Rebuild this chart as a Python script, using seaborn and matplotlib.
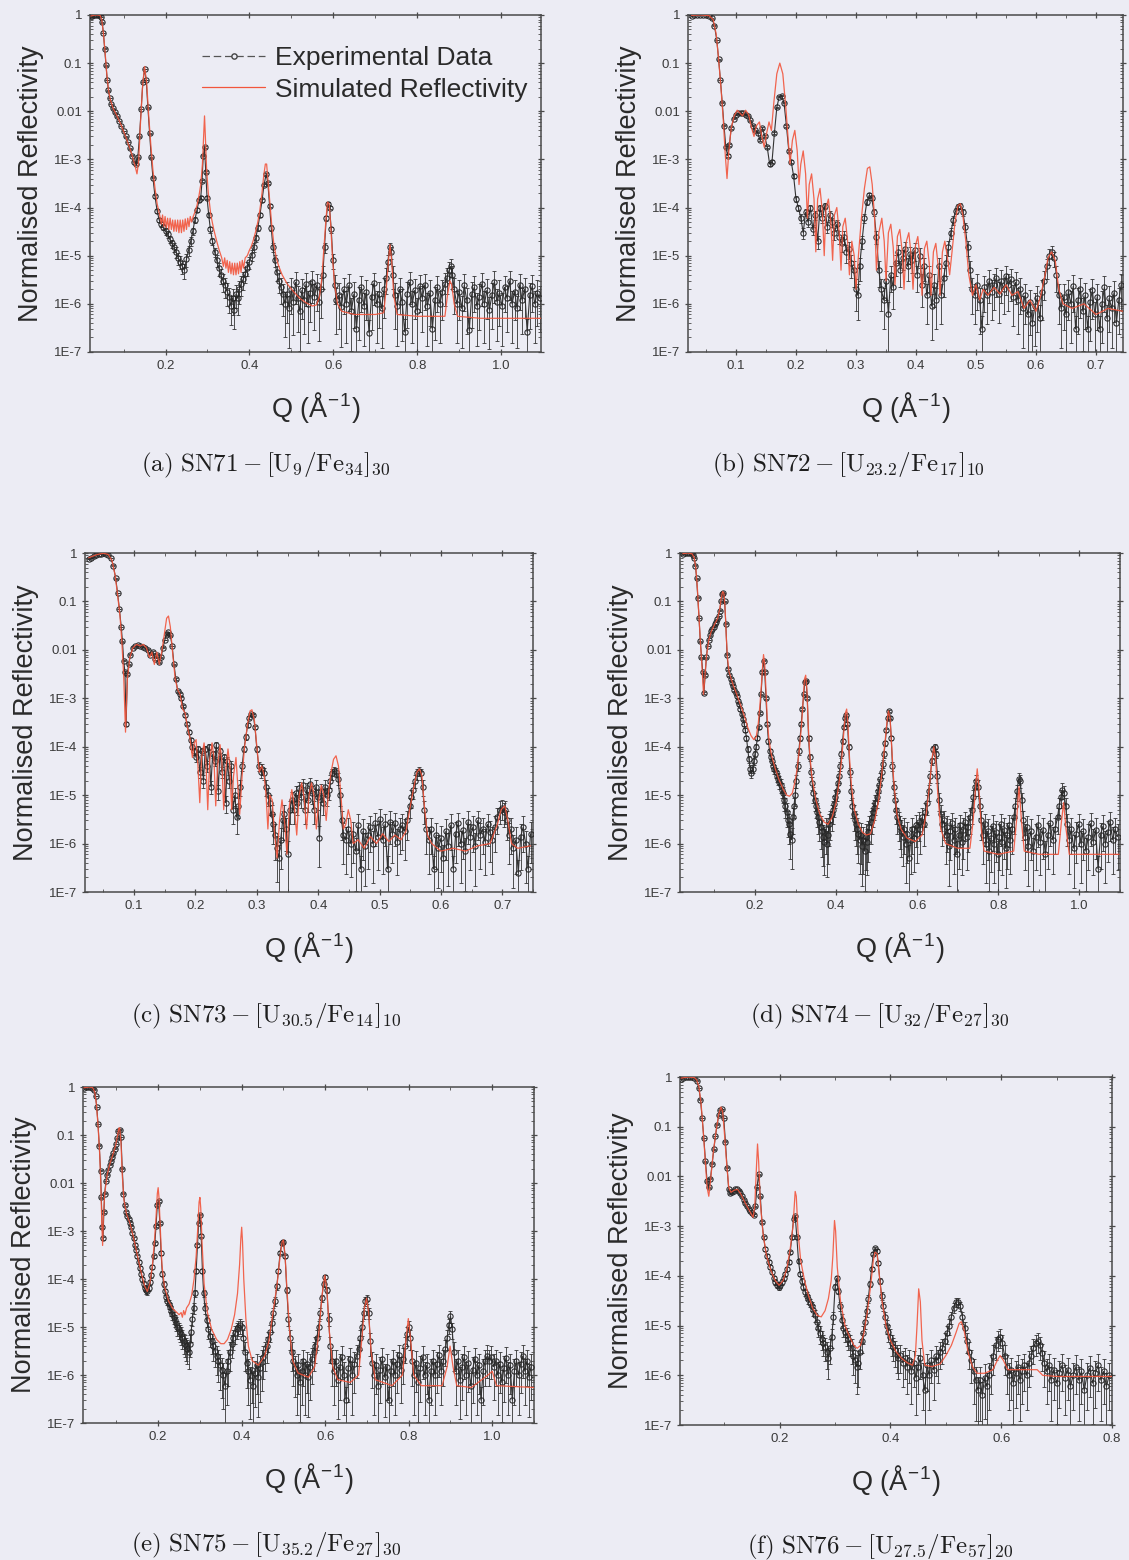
import numpy as np
import pandas as pd
import matplotlib
matplotlib.use('Agg')
import matplotlib.pyplot as plt
from matplotlib.lines import Line2D
from matplotlib.ticker import FixedLocator, MultipleLocator, LogLocator, NullFormatter
import seaborn as sns

# ─── Data: (Q, R, error in % of R) and (Q, R)
#
EXP_A = [
    (0.022, 0.93, 1), (0.026, 0.97, 1), (0.030, 0.99, 1), (0.034, 1.0, 1), (0.038, 1.0, 1), (0.042, 0.98, 1),
    (0.046, 0.90, 1), (0.049, 0.70, 1), (0.052, 0.42, 1), (0.055, 0.20, 1), (0.058, 0.090, 1), (0.061, 0.045, 1),
    (0.064, 0.027, 1), (0.067, 0.019, 1), (0.071, 0.014, 1), (0.075, 0.0115, 1), (0.080, 0.0095, 1), (0.085, 0.0078, 1),
    (0.090, 0.0063, 1), (0.095, 0.0050, 1), (0.100, 0.0039, 1), (0.105, 0.0030, 2), (0.110, 0.0023, 2), (0.115, 0.0017, 2),
    (0.120, 0.0012, 2), (0.125, 0.0009, 3), (0.130, 0.0008, 3), (0.134, 0.0011, 3), (0.138, 0.0030, 2), (0.142, 0.011, 1),
    (0.146, 0.040, 1), (0.150, 0.075, 1), (0.154, 0.045, 1), (0.158, 0.012, 1), (0.162, 0.0035, 2), (0.166, 0.0011, 3),
    (0.170, 4.2e-4, 4), (0.175, 1.7e-4, 5), (0.180, 8.5e-5, 8), (0.185, 5.5e-5, 10), (0.190, 4.5e-5, 12), (0.195, 4.0e-5, 14),
    (0.200, 3.2e-5, 15), (0.205, 2.8e-5, 16), (0.210, 2.2e-5, 18), (0.215, 1.8e-5, 20), (0.220, 1.5e-5, 22), (0.225, 1.2e-5, 25),
    (0.230, 9.0e-6, 28), (0.235, 7.5e-6, 30), (0.240, 6.0e-6, 32), (0.245, 5.0e-6, 35), (0.250, 8.5e-6, 30), (0.255, 1.3e-5, 25),
    (0.260, 2.0e-5, 22), (0.265, 3.2e-5, 18), (0.270, 5.5e-5, 14), (0.275, 9.0e-5, 10), (0.280, 1.4e-4, 8), (0.284, 1.6e-4, 8),
    (0.287, 3.5e-4, 5), (0.290, 1.2e-3, 3), (0.293, 1.8e-3, 3), (0.296, 5.5e-4, 4), (0.299, 1.6e-4, 8), (0.303, 7.0e-5, 10),
    (0.307, 3.5e-5, 14), (0.312, 2.0e-5, 18), (0.317, 1.2e-5, 22), (0.322, 8.0e-6, 26), (0.327, 5.5e-6, 30), (0.332, 4.0e-6, 35),
    (0.337, 3.0e-6, 40), (0.342, 2.4e-6, 45), (0.347, 1.8e-6, 50), (0.352, 1.4e-6, 55), (0.356, 9.0e-7, 60), (0.360, 1.3e-6, 55),
    (0.364, 7.5e-7, 60), (0.368, 1.6e-6, 50), (0.372, 1.3e-6, 55), (0.376, 2.0e-6, 50), (0.380, 2.6e-6, 45), (0.385, 3.2e-6, 40),
    (0.390, 4.2e-6, 36), (0.395, 5.5e-6, 32), (0.400, 7.5e-6, 28), (0.405, 1.05e-5, 25), (0.410, 1.5e-5, 22), (0.415, 2.3e-5, 18),
    (0.420, 3.8e-5, 14), (0.425, 7.0e-5, 10), (0.430, 1.4e-4, 8), (0.435, 3.0e-4, 5), (0.440, 5.0e-4, 4), (0.444, 3.2e-4, 5),
    (0.448, 1.1e-4, 8), (0.452, 3.8e-5, 14), (0.456, 1.5e-5, 20), (0.460, 8.0e-6, 28), (0.465, 4.5e-6, 35), (0.470, 3.0e-6, 45),
    (0.475, 2.2e-6, 55), (0.480, 1.6e-6, 65), (0.485, 1.0e-6, 80), (0.490, 1.6e-6, 75), (0.495, 8.0e-7, 85), (0.500, 2.0e-6, 70),
    (0.505, 1.1e-6, 80), (0.510, 2.8e-6, 65), (0.515, 1.3e-6, 80), (0.520, 7.0e-7, 85), (0.525, 1.9e-6, 75), (0.530, 1.2e-6, 80),
    (0.535, 2.6e-6, 65), (0.540, 1.0e-6, 85), (0.545, 1.7e-6, 75), (0.550, 2.9e-6, 65), (0.555, 1.4e-6, 80), (0.560, 2.4e-6, 70),
    (0.565, 1.1e-6, 85), (0.570, 2.0e-6, 75), (0.575, 4.0e-6, 50), (0.579, 1.5e-5, 25), (0.583, 6.0e-5, 12), (0.587, 1.2e-4, 8),
    (0.591, 1.0e-4, 8), (0.595, 3.5e-5, 15), (0.599, 8.0e-6, 35), (0.603, 2.5e-6, 60), (0.607, 1.2e-6, 80),
    (0.613, 1.5e-6, 80), (0.619, 8.5e-7, 85), (0.625, 2.0e-6, 70), (0.631, 1.0e-6, 85), (0.637, 2.4e-6, 70), (0.643, 7.0e-7, 85),
    (0.649, 1.6e-6, 80), (0.655, 3.0e-7, 85), (0.661, 1.2e-6, 85), (0.667, 2.2e-6, 70), (0.673, 9.0e-7, 85), (0.679, 1.8e-6, 75),
    (0.685, 2.5e-7, 85), (0.691, 1.4e-6, 80), (0.697, 2.7e-6, 65), (0.703, 1.0e-6, 85), (0.709, 1.6e-6, 80), (0.715, 8.0e-7, 85),
    (0.721, 2.0e-6, 75), (0.726, 3.5e-6, 55), (0.730, 7.5e-6, 35), (0.734, 1.5e-5, 25), (0.738, 1.2e-5, 28), (0.742, 4.0e-6, 50),
    (0.746, 1.5e-6, 80), (0.752, 9.0e-7, 85), (0.758, 2.0e-6, 70), (0.764, 1.1e-6, 85), (0.770, 2.6e-7, 85), (0.776, 1.6e-6, 80),
    (0.782, 2.8e-6, 65), (0.788, 1.0e-6, 85), (0.794, 1.9e-6, 75), (0.800, 7.0e-7, 85), (0.806, 2.3e-6, 70), (0.812, 1.3e-6, 80),
    (0.818, 2.5e-6, 70), (0.824, 9.0e-7, 85), (0.830, 1.7e-6, 80), (0.836, 3.0e-7, 85), (0.842, 1.2e-6, 85), (0.848, 2.2e-6, 70),
    (0.854, 1.0e-6, 85), (0.860, 1.8e-6, 75), (0.866, 2.6e-6, 65), (0.871, 3.5e-6, 55), (0.876, 5.0e-6, 45), (0.880, 6.0e-6, 40),
    (0.884, 4.0e-6, 50), (0.888, 2.0e-6, 70), (0.894, 1.0e-6, 85), (0.900, 1.8e-6, 75), (0.906, 8.0e-7, 85), (0.912, 2.4e-6, 70),
    (0.918, 1.2e-6, 80), (0.924, 2.8e-7, 85), (0.930, 1.6e-6, 80), (0.936, 2.2e-6, 70), (0.942, 9.0e-7, 85), (0.948, 1.4e-6, 80),
    (0.954, 2.6e-6, 65), (0.960, 1.0e-6, 85), (0.966, 1.9e-6, 75), (0.972, 7.5e-7, 85), (0.978, 1.5e-6, 80), (0.984, 2.9e-6, 65),
    (0.990, 1.1e-6, 85), (0.996, 1.7e-6, 80), (1.002, 9.0e-7, 85), (1.008, 2.2e-6, 70), (1.014, 1.3e-6, 80), (1.020, 3.0e-6, 60),
    (1.026, 1.0e-6, 85), (1.032, 1.8e-6, 75), (1.038, 8.0e-7, 85), (1.044, 2.5e-6, 70), (1.050, 1.2e-6, 80), (1.056, 2.0e-6, 75),
    (1.062, 2.6e-7, 85), (1.068, 1.5e-6, 80), (1.074, 2.3e-6, 70), (1.080, 1.0e-6, 85), (1.086, 1.7e-6, 80), (1.092, 1.3e-6, 80),
]
SIM_A = [
    (0.022, 0.95), (0.030, 0.99), (0.038, 1.0), (0.044, 0.98), (0.048, 0.80), (0.052, 0.42), (0.056, 0.17), (0.060, 0.060),
    (0.064, 0.028), (0.068, 0.018), (0.075, 0.0115), (0.085, 0.0078), (0.095, 0.0050), (0.105, 0.0030), (0.115, 0.0017),
    (0.122, 0.0011), (0.128, 7e-4), (0.132, 5e-4), (0.136, 9e-4), (0.140, 0.005), (0.145, 0.030), (0.150, 0.085),
    (0.155, 0.040), (0.160, 0.008), (0.165, 0.002), (0.170, 6e-4), (0.175, 2.5e-4), (0.180, 1.2e-4), (0.186, 7e-5),
    (0.190, 4.5e-5), (0.193, 7e-5), (0.196, 4e-5), (0.199, 6.5e-5), (0.202, 3.8e-5), (0.205, 6e-5), (0.208, 3.5e-5),
    (0.211, 6e-5), (0.214, 3.5e-5), (0.217, 5.5e-5), (0.220, 3.2e-5), (0.223, 5.5e-5), (0.226, 3.2e-5), (0.229, 5.5e-5),
    (0.232, 3e-5), (0.235, 5.5e-5), (0.238, 3e-5), (0.241, 5.5e-5), (0.244, 3.2e-5), (0.247, 5.8e-5), (0.250, 3.5e-5),
    (0.253, 6e-5), (0.256, 4e-5), (0.259, 6.5e-5), (0.262, 5e-5), (0.266, 6.5e-5), (0.270, 8e-5), (0.275, 1.1e-4),
    (0.280, 1.8e-4), (0.284, 3e-4), (0.288, 8e-4), (0.291, 3e-3), (0.293, 8e-3), (0.295, 3e-3), (0.298, 6e-4),
    (0.302, 2e-4), (0.308, 7e-5), (0.315, 3.5e-5), (0.322, 2e-5), (0.328, 1.3e-5), (0.334, 9e-6), (0.338, 6e-6),
    (0.341, 9e-6), (0.344, 5.5e-6), (0.347, 8e-6), (0.350, 4.5e-6), (0.353, 7.5e-6), (0.356, 4.2e-6), (0.359, 7e-6),
    (0.362, 4e-6), (0.365, 7e-6), (0.368, 4e-6), (0.371, 7e-6), (0.374, 4.2e-6), (0.377, 7.5e-6), (0.380, 4.5e-6),
    (0.383, 8e-6), (0.386, 5.5e-6), (0.390, 9e-6), (0.395, 1e-5), (0.400, 1.3e-5), (0.405, 1.6e-5), (0.410, 2.2e-5),
    (0.415, 3.2e-5), (0.420, 5e-5), (0.425, 9e-5), (0.430, 2e-4), (0.434, 4.5e-4), (0.438, 8e-4), (0.441, 8e-4),
    (0.444, 4e-4), (0.448, 1.5e-4), (0.453, 4.5e-5), (0.458, 1.8e-5), (0.464, 9e-6), (0.470, 6e-6), (0.478, 4e-6),
    (0.490, 2.6e-6), (0.505, 1.8e-6), (0.520, 1.3e-6), (0.535, 1.05e-6), (0.550, 9e-7), (0.560, 9.5e-7), (0.567, 1.4e-6),
    (0.572, 3e-6), (0.577, 1.2e-5), (0.582, 5e-5), (0.586, 1.3e-4), (0.590, 1.2e-4), (0.594, 4e-5), (0.598, 9e-6),
    (0.603, 2.5e-6), (0.610, 1e-6), (0.620, 7e-7), (0.650, 6e-7), (0.700, 6e-7), (0.720, 6.5e-7), (0.726, 2e-6),
    (0.731, 7e-6), (0.735, 1.7e-5), (0.739, 8e-6), (0.744, 1.5e-6), (0.752, 6e-7), (0.800, 5.5e-7), (0.866, 5.5e-7),
    (0.872, 1.5e-6), (0.878, 3e-6), (0.882, 2.5e-6), (0.888, 1e-6), (0.896, 5.5e-7), (0.950, 5e-7), (1.095, 5e-7),
]

EXP_B = [
    (0.026, 0.97, 1), (0.030, 0.99, 1), (0.035, 1.0, 1), (0.040, 1.0, 1), (0.045, 1.0, 1), (0.050, 0.99, 1), (0.055, 0.95, 1),
    (0.060, 0.85, 1), (0.064, 0.60, 1), (0.068, 0.30, 1), (0.071, 0.12, 1), (0.074, 0.045, 1), (0.077, 0.015, 2), (0.080, 5e-3, 3),
    (0.083, 1.8e-3, 5), (0.086, 1.2e-3, 6), (0.089, 2.0e-3, 5), (0.092, 4.5e-3, 3), (0.096, 7.0e-3, 3), (0.100, 8.5e-3, 2),
    (0.104, 9.0e-3, 2), (0.108, 9.2e-3, 2), (0.112, 9.0e-3, 2), (0.116, 8.5e-3, 2), (0.120, 8.0e-3, 2), (0.124, 6.5e-3, 3),
    (0.128, 5.0e-3, 3), (0.132, 4.0e-3, 4), (0.136, 3.6e-3, 4), (0.140, 2.5e-3, 5), (0.144, 4.5e-3, 4), (0.148, 3.0e-3, 5),
    (0.152, 1.8e-3, 6), (0.156, 8e-4, 8), (0.160, 9e-4, 8), (0.164, 3.5e-3, 5), (0.168, 1.2e-2, 3), (0.172, 2.0e-2, 2),
    (0.176, 2.1e-2, 2), (0.180, 1.5e-2, 3), (0.184, 5e-3, 4), (0.188, 1.5e-3, 6), (0.192, 9e-4, 8), (0.196, 4.5e-4, 10),
    (0.200, 1.5e-4, 15), (0.204, 1.0e-4, 15), (0.208, 6e-5, 20), (0.212, 3e-5, 25), (0.216, 8e-5, 18), (0.220, 5e-5, 22),
    (0.224, 1.0e-4, 15), (0.228, 3.5e-5, 25), (0.232, 7e-5, 20), (0.236, 2e-5, 30), (0.240, 1.0e-4, 15), (0.244, 6e-5, 20),
    (0.248, 1.1e-4, 15), (0.252, 4e-5, 25), (0.256, 7e-5, 20), (0.260, 5e-5, 22), (0.264, 3e-5, 28), (0.268, 4.5e-5, 25),
    (0.272, 2.5e-5, 30), (0.276, 1.8e-5, 35), (0.280, 2.5e-5, 30), (0.284, 1.2e-5, 40), (0.288, 1.4e-5, 40), (0.292, 7e-6, 50),
    (0.296, 5e-6, 55), (0.300, 2e-6, 65), (0.303, 1.5e-6, 70), (0.306, 6e-6, 50), (0.310, 2e-5, 30), (0.314, 6e-5, 20),
    (0.318, 1.3e-4, 15), (0.322, 1.8e-4, 12), (0.326, 1.6e-4, 12), (0.330, 8e-5, 18), (0.334, 2.5e-5, 30), (0.338, 5e-6, 55),
    (0.342, 2e-6, 65), (0.346, 1.2e-6, 75), (0.350, 3e-6, 60), (0.354, 6e-7, 85), (0.358, 4e-6, 55), (0.362, 2.2e-6, 65),
    (0.366, 7e-6, 45), (0.370, 1.2e-5, 40), (0.374, 5e-6, 55), (0.378, 9e-6, 45), (0.382, 1.4e-5, 40), (0.386, 6e-6, 50),
    (0.390, 1.1e-5, 40), (0.394, 8e-6, 45), (0.398, 1.3e-5, 40), (0.402, 4e-6, 55), (0.406, 1.0e-5, 45), (0.410, 2.5e-6, 65),
    (0.414, 6e-6, 50), (0.418, 1.5e-6, 75), (0.422, 4e-6, 55), (0.426, 9e-7, 80), (0.430, 2.5e-6, 65), (0.434, 1.2e-6, 75),
    (0.438, 6e-6, 50), (0.442, 1.5e-6, 75), (0.446, 3.5e-6, 60), (0.450, 7e-6, 45), (0.454, 1.5e-5, 35), (0.458, 3e-5, 25),
    (0.462, 5.5e-5, 20), (0.466, 8.5e-5, 15), (0.470, 1.05e-4, 12), (0.474, 1.1e-4, 12), (0.478, 8e-5, 15), (0.482, 4e-5, 22),
    (0.486, 1.5e-5, 35), (0.490, 5e-6, 55), (0.494, 2e-6, 70), (0.498, 1.5e-6, 75), (0.502, 2.5e-6, 70), (0.506, 1.2e-6, 80),
    (0.510, 3e-7, 85), (0.514, 2.2e-6, 70), (0.518, 1.5e-6, 75), (0.522, 3e-6, 65), (0.526, 1.8e-6, 75), (0.530, 2.5e-6, 70),
    (0.534, 3.5e-6, 60), (0.538, 1.6e-6, 75), (0.542, 3e-6, 65), (0.546, 2e-6, 70), (0.550, 3.8e-6, 60), (0.554, 2.4e-6, 70),
    (0.558, 3.2e-6, 65), (0.562, 1.4e-6, 75), (0.566, 2.8e-6, 65), (0.570, 1.2e-6, 80), (0.574, 2e-6, 70), (0.578, 8e-7, 85),
    (0.582, 1.5e-6, 75), (0.586, 6e-7, 85), (0.590, 1.1e-6, 80), (0.594, 4e-7, 85), (0.598, 9e-7, 85), (0.602, 1.3e-6, 80),
    (0.606, 5e-7, 85), (0.610, 1.8e-6, 75), (0.614, 3e-6, 60), (0.618, 6e-6, 45), (0.622, 1.0e-5, 35), (0.626, 1.2e-5, 30),
    (0.630, 9e-6, 35), (0.634, 4e-6, 55), (0.638, 1.5e-6, 75), (0.642, 8e-7, 85), (0.646, 1.4e-6, 80), (0.650, 6e-7, 85),
    (0.654, 1.8e-6, 75), (0.658, 1.0e-6, 85), (0.662, 2.3e-6, 70), (0.666, 3e-7, 85), (0.670, 1.2e-6, 80), (0.674, 2.0e-6, 75),
    (0.678, 7e-7, 85), (0.682, 1.5e-6, 80), (0.686, 3e-7, 85), (0.690, 1.1e-6, 85), (0.694, 1.9e-6, 75), (0.698, 6e-7, 85),
    (0.702, 1.4e-6, 80), (0.706, 3e-7, 85), (0.710, 1.0e-6, 85), (0.714, 2.2e-6, 70), (0.718, 5e-7, 85), (0.722, 1.3e-6, 80),
    (0.726, 8e-7, 85), (0.730, 1.7e-6, 75), (0.734, 4e-7, 85), (0.738, 1.2e-6, 80), (0.742, 2.5e-6, 70),
]
SIM_B = [
    (0.026, 0.98), (0.040, 1.0), (0.055, 0.97), (0.062, 0.80), (0.067, 0.40), (0.071, 0.12), (0.075, 0.03), (0.079, 6e-3),
    (0.082, 1.3e-3), (0.085, 4e-4), (0.088, 1.5e-3), (0.092, 4.5e-3), (0.097, 8e-3), (0.102, 1.05e-2), (0.107, 9e-3),
    (0.111, 8e-3), (0.116, 1.05e-2), (0.121, 8.5e-3), (0.126, 4.5e-3), (0.130, 3e-3), (0.134, 5e-3), (0.139, 6e-3),
    (0.143, 3e-3), (0.147, 1.8e-3), (0.151, 3.5e-3), (0.155, 6e-3), (0.159, 4e-3), (0.163, 1.5e-2), (0.168, 6e-2),
    (0.173, 0.1), (0.178, 6e-2), (0.183, 1.2e-2), (0.187, 2.5e-3), (0.190, 8e-4), (0.194, 2.5e-3), (0.198, 4e-3),
    (0.202, 1.5e-3), (0.205, 3e-4), (0.208, 8e-4), (0.212, 1.5e-3), (0.216, 5e-4), (0.219, 6e-5), (0.222, 3e-4),
    (0.226, 5e-4), (0.230, 1.5e-4), (0.233, 1.2e-5), (0.236, 1.5e-4), (0.240, 2.5e-4), (0.244, 8e-5), (0.247, 1e-5),
    (0.250, 1e-4), (0.254, 1.5e-4), (0.258, 5e-5), (0.261, 8e-6), (0.264, 7e-5), (0.268, 1e-4), (0.272, 3e-5),
    (0.275, 5e-6), (0.278, 4e-5), (0.282, 6e-5), (0.286, 2e-5), (0.289, 4e-6), (0.293, 2e-5), (0.297, 1e-5),
    (0.300, 2e-6), (0.304, 1e-5), (0.309, 6e-5), (0.314, 2.5e-4), (0.319, 6.5e-4), (0.323, 7e-4), (0.327, 3e-4),
    (0.331, 6e-5), (0.334, 5e-6), (0.338, 3e-5), (0.343, 6e-5), (0.347, 2e-5), (0.350, 3e-6), (0.354, 3e-5),
    (0.358, 4.5e-5), (0.362, 1.5e-5), (0.365, 2.5e-6), (0.369, 2.5e-5), (0.373, 3.5e-5), (0.377, 1.2e-5), (0.380, 2e-6),
    (0.384, 2e-5), (0.388, 3e-5), (0.392, 1e-5), (0.395, 2e-6), (0.399, 1.6e-5), (0.403, 2.5e-5), (0.407, 8e-6),
    (0.410, 1.5e-6), (0.414, 1.4e-5), (0.418, 2e-5), (0.422, 7e-6), (0.425, 1.5e-6), (0.429, 1.2e-5), (0.433, 1.8e-5),
    (0.437, 6e-6), (0.440, 1.5e-6), (0.444, 1.2e-5), (0.448, 2e-5), (0.452, 1e-5), (0.456, 4e-6), (0.460, 1.2e-5),
    (0.465, 5e-5), (0.470, 1.1e-4), (0.474, 1.2e-4), (0.478, 7e-5), (0.483, 2e-5), (0.488, 4e-6), (0.494, 1.5e-6),
    (0.500, 2.5e-6), (0.506, 1.2e-6), (0.512, 2e-6), (0.520, 1.5e-6), (0.530, 2.2e-6), (0.540, 1.6e-6), (0.550, 2.5e-6),
    (0.560, 1.5e-6), (0.570, 1.8e-6), (0.580, 8e-7), (0.590, 1.2e-6), (0.600, 7e-7), (0.608, 1.5e-6), (0.615, 4e-6),
    (0.620, 9e-6), (0.626, 1.2e-5), (0.632, 8e-6), (0.638, 2e-6), (0.645, 1e-6), (0.660, 8e-7), (0.680, 1e-6),
    (0.700, 6e-7), (0.720, 8e-7), (0.745, 7e-7),
]

EXP_C = [
    (0.026, 0.75, 1), (0.030, 0.80, 1), (0.034, 0.85, 1), (0.038, 0.90, 1), (0.042, 0.95, 1), (0.046, 0.97, 1),
    (0.050, 0.99, 1), (0.054, 0.97, 1), (0.058, 0.92, 1), (0.062, 0.80, 1), (0.066, 0.55, 1), (0.070, 0.30, 1),
    (0.073, 0.15, 1), (0.076, 0.07, 1), (0.079, 0.03, 1), (0.081, 0.015, 2), (0.083, 6e-3, 3), (0.085, 3.5e-3, 4),
    (0.087, 3e-4, 10), (0.089, 3.2e-3, 4), (0.091, 5e-3, 3), (0.094, 8e-3, 3), (0.098, 1.1e-2, 2), (0.102, 1.2e-2, 2),
    (0.106, 1.25e-2, 2), (0.110, 1.2e-2, 2), (0.114, 1.15e-2, 2), (0.118, 1.1e-2, 2), (0.122, 1.0e-2, 2), (0.126, 8e-3, 3),
    (0.130, 9e-3, 3), (0.134, 6.5e-3, 3), (0.138, 8e-3, 3), (0.141, 5.5e-3, 3), (0.144, 7e-3, 3), (0.147, 1.1e-2, 2),
    (0.150, 1.6e-2, 2), (0.153, 2.1e-2, 2), (0.156, 2.3e-2, 2), (0.159, 2.0e-2, 2), (0.162, 1.2e-2, 2), (0.165, 5e-3, 3),
    (0.168, 2.5e-3, 4), (0.171, 1.4e-3, 5), (0.174, 1.2e-3, 5), (0.177, 1.0e-3, 6), (0.180, 7e-4, 6), (0.183, 4.5e-4, 7),
    (0.186, 3e-4, 8), (0.189, 2e-4, 9), (0.192, 1.4e-4, 10), (0.195, 1.0e-4, 12), (0.198, 8e-5, 15), (0.201, 6e-5, 18),
    (0.204, 9e-5, 15), (0.207, 3e-5, 25), (0.210, 8e-5, 15), (0.213, 2e-5, 30), (0.216, 9e-5, 15), (0.219, 4e-5, 25),
    (0.222, 1e-4, 15), (0.225, 1.5e-5, 30), (0.228, 7e-5, 18), (0.231, 5e-5, 20), (0.234, 1.1e-4, 15), (0.237, 1.2e-5, 35),
    (0.240, 8e-5, 18), (0.243, 3e-5, 25), (0.246, 6e-5, 20), (0.249, 7e-6, 40), (0.252, 5e-5, 20), (0.255, 2e-5, 30),
    (0.258, 4e-5, 25), (0.261, 5e-6, 50), (0.264, 1e-5, 40), (0.267, 3.5e-6, 55), (0.270, 6e-6, 45), (0.273, 1.5e-5, 35),
    (0.276, 4e-5, 22), (0.279, 9e-5, 15), (0.282, 1.6e-4, 12), (0.285, 2.8e-4, 8), (0.288, 4e-4, 7), (0.291, 4.8e-4, 6),
    (0.294, 4.5e-4, 6), (0.297, 2.5e-4, 8), (0.300, 9e-5, 15), (0.303, 4e-5, 22), (0.306, 3e-5, 25), (0.309, 3.5e-5, 25),
    (0.312, 2.8e-5, 28), (0.315, 1.5e-5, 35), (0.318, 1.0e-5, 40), (0.321, 7e-6, 45), (0.324, 4e-6, 55), (0.327, 2.5e-6, 60),
    (0.330, 1.5e-6, 70), (0.333, 8e-7, 80), (0.336, 5e-7, 85), (0.339, 1.2e-6, 75), (0.342, 3e-6, 60), (0.345, 4e-6, 55),
    (0.348, 2e-6, 65), (0.351, 6e-7, 85), (0.354, 5e-6, 50), (0.357, 8e-6, 45), (0.360, 5e-6, 50), (0.363, 1.1e-5, 40),
    (0.366, 7e-6, 45), (0.369, 1.4e-5, 35), (0.372, 9e-6, 40), (0.375, 1.6e-5, 35), (0.378, 5e-6, 50), (0.381, 1.3e-5, 38),
    (0.384, 8e-6, 45), (0.387, 1.7e-5, 35), (0.390, 1.1e-5, 40), (0.393, 5e-6, 50), (0.396, 1.5e-5, 35), (0.399, 9e-6, 45),
    (0.402, 1.3e-6, 75), (0.405, 1.2e-5, 40), (0.408, 7e-6, 45), (0.411, 1.5e-5, 35), (0.414, 1.0e-5, 40), (0.417, 1.3e-5, 38),
    (0.420, 2e-5, 30), (0.423, 2.8e-5, 25), (0.426, 3.2e-5, 22), (0.429, 3e-5, 22), (0.432, 2.2e-5, 28), (0.435, 1e-5, 40),
    (0.438, 3e-6, 60), (0.441, 1.5e-6, 75), (0.445, 1.2e-6, 80), (0.449, 2e-6, 70), (0.453, 1e-6, 80), (0.457, 1.6e-6, 75),
    (0.461, 7e-7, 85), (0.465, 2.4e-6, 70), (0.469, 3e-7, 85), (0.473, 1.8e-6, 75), (0.477, 9e-7, 85), (0.481, 1.5e-6, 80),
    (0.485, 2.2e-6, 70), (0.489, 1e-6, 85), (0.493, 2.6e-6, 65), (0.497, 1.4e-6, 80), (0.501, 3.2e-6, 60), (0.505, 1.2e-6, 80),
    (0.509, 2.5e-6, 65), (0.513, 3e-7, 85), (0.517, 2.8e-6, 65), (0.521, 1.6e-6, 75), (0.525, 2.6e-6, 65), (0.529, 1.1e-6, 80),
    (0.533, 2.0e-6, 70), (0.537, 2.4e-6, 70), (0.541, 1.8e-6, 75), (0.545, 3e-6, 60), (0.549, 6e-6, 45), (0.552, 9e-6, 40),
    (0.555, 1.3e-5, 35), (0.558, 2e-5, 30), (0.561, 2.8e-5, 25), (0.564, 3.2e-5, 22), (0.567, 2.8e-5, 25), (0.570, 1.5e-5, 35),
    (0.573, 5e-6, 50), (0.576, 2e-6, 70), (0.580, 1.2e-6, 80), (0.584, 2e-6, 70), (0.588, 3e-7, 85), (0.592, 1.5e-6, 80),
    (0.596, 8e-7, 85), (0.600, 1.3e-6, 80), (0.604, 5e-7, 85), (0.608, 1.8e-6, 75), (0.612, 9e-7, 85), (0.616, 2.4e-6, 70),
    (0.620, 3e-7, 85), (0.624, 1.6e-6, 75), (0.628, 2.6e-6, 65), (0.632, 1e-6, 85), (0.636, 1.9e-6, 75), (0.640, 7e-7, 85),
    (0.644, 2.8e-6, 65), (0.648, 1.4e-6, 80), (0.652, 2.2e-6, 70), (0.656, 9e-7, 85), (0.660, 3e-6, 60), (0.664, 1.5e-6, 80),
    (0.668, 2e-6, 70), (0.672, 1.1e-6, 80), (0.676, 2.5e-6, 65), (0.680, 1.7e-6, 75), (0.684, 1.2e-6, 80), (0.688, 2.2e-6, 70),
    (0.692, 3.5e-6, 55), (0.696, 5e-6, 50), (0.699, 5.5e-6, 45), (0.702, 4.5e-6, 50), (0.705, 5e-6, 50), (0.708, 3e-6, 60),
    (0.711, 1.5e-6, 75), (0.714, 2e-6, 70), (0.718, 8e-7, 85), (0.722, 1.2e-6, 80), (0.726, 2.5e-7, 85), (0.730, 1.4e-6, 80),
    (0.734, 2.2e-6, 70), (0.738, 1e-6, 85), (0.742, 3e-7, 85), (0.746, 1.6e-6, 75),
]
SIM_C = [
    (0.026, 0.80), (0.040, 0.93), (0.050, 0.99), (0.058, 0.93), (0.064, 0.70), (0.069, 0.35), (0.073, 0.14), (0.077, 0.05),
    (0.080, 0.015), (0.083, 3e-3), (0.086, 2e-4), (0.089, 2.5e-3), (0.093, 7e-3), (0.098, 1.1e-2), (0.104, 1.3e-2),
    (0.110, 1.2e-2), (0.115, 1.3e-2), (0.120, 1.1e-2), (0.125, 7e-3), (0.129, 9e-3), (0.133, 5e-3), (0.137, 9e-3),
    (0.141, 5e-3), (0.145, 9e-3), (0.149, 2e-2), (0.153, 4.5e-2), (0.156, 5e-2), (0.159, 3e-2), (0.163, 8e-3),
    (0.167, 2.5e-3), (0.171, 1.5e-3), (0.175, 1.2e-3), (0.179, 6e-4), (0.183, 5e-4), (0.187, 2.5e-4), (0.191, 1.5e-4),
    (0.195, 6e-5), (0.198, 1.2e-4), (0.201, 1.4e-4), (0.204, 4e-5), (0.207, 7e-6), (0.210, 6e-5), (0.214, 1.2e-4),
    (0.217, 5e-5), (0.220, 5e-6), (0.223, 5e-5), (0.227, 1.2e-4), (0.230, 6e-5), (0.233, 6e-6), (0.236, 4e-5),
    (0.240, 1.1e-4), (0.243, 5e-5), (0.246, 5e-6), (0.249, 3e-5), (0.253, 9e-5), (0.256, 4e-5), (0.259, 5e-6),
    (0.262, 2.5e-5), (0.266, 6e-5), (0.269, 1.5e-5), (0.272, 4e-6), (0.276, 2.5e-5), (0.280, 1e-4), (0.285, 3e-4),
    (0.289, 5.5e-4), (0.292, 5.8e-4), (0.296, 3.5e-4), (0.300, 1e-4), (0.304, 3e-5), (0.308, 4e-5), (0.312, 2.5e-5),
    (0.315, 1e-5), (0.318, 2e-6), (0.321, 1e-5), (0.325, 8e-6), (0.329, 1.5e-6), (0.333, 5e-7), (0.337, 3e-6),
    (0.341, 8e-6), (0.345, 3e-6), (0.349, 6e-7), (0.353, 6e-6), (0.357, 1.3e-5), (0.361, 6e-6), (0.365, 1.5e-6),
    (0.369, 1e-5), (0.373, 1.8e-5), (0.377, 9e-6), (0.381, 2e-6), (0.385, 1e-5), (0.389, 1.8e-5), (0.393, 1e-5),
    (0.397, 2e-6), (0.401, 8e-6), (0.405, 1.6e-5), (0.409, 1e-5), (0.413, 3e-6), (0.417, 1.2e-5), (0.421, 3e-5),
    (0.425, 5.5e-5), (0.429, 6.5e-5), (0.433, 4e-5), (0.437, 1e-5), (0.441, 2e-6), (0.445, 2.5e-6), (0.449, 5e-6),
    (0.453, 3e-6), (0.457, 1e-6), (0.465, 1.2e-6), (0.475, 8e-7), (0.485, 1.4e-6), (0.495, 1.0e-6), (0.505, 1.6e-6),
    (0.515, 1.1e-6), (0.525, 1.5e-6), (0.535, 1.2e-6), (0.543, 1.8e-6), (0.549, 5e-6), (0.555, 1.3e-5), (0.561, 3e-5),
    (0.565, 3.5e-5), (0.569, 2.5e-5), (0.573, 6e-6), (0.578, 1.5e-6), (0.585, 1e-6), (0.600, 7e-7), (0.620, 8e-7),
    (0.640, 7e-7), (0.660, 9e-7), (0.680, 1e-6), (0.692, 2.5e-6), (0.698, 5e-6), (0.704, 6e-6), (0.709, 3e-6),
    (0.715, 1e-6), (0.725, 8e-7), (0.746, 9e-7),
]

EXP_D = [
    (0.022, 0.95, 1), (0.027, 0.99, 1), (0.032, 1.0, 1), (0.037, 1.0, 1), (0.042, 0.98, 1), (0.046, 0.93, 1),
    (0.050, 0.80, 1), (0.053, 0.55, 1), (0.056, 0.30, 1), (0.059, 0.12, 1), (0.062, 0.045, 1), (0.065, 0.015, 2),
    (0.068, 7e-3, 3), (0.071, 3.5e-3, 4), (0.074, 1.3e-3, 6), (0.077, 3e-3, 4), (0.080, 7e-3, 3), (0.083, 1.2e-2, 2),
    (0.086, 1.6e-2, 2), (0.089, 2.0e-2, 2), (0.092, 2.4e-2, 2), (0.095, 2.7e-2, 2), (0.098, 3.0e-2, 2), (0.101, 3.4e-2, 2),
    (0.104, 3.8e-2, 2), (0.107, 4.3e-2, 2), (0.110, 5e-2, 2), (0.113, 6.5e-2, 1), (0.116, 0.10, 1), (0.119, 0.14, 1),
    (0.122, 0.15, 1), (0.125, 0.10, 1), (0.128, 3.5e-2, 2), (0.131, 8e-3, 3), (0.134, 4e-3, 4), (0.137, 3e-3, 4),
    (0.140, 2.5e-3, 4), (0.143, 2.1e-3, 4), (0.146, 1.8e-3, 5), (0.149, 1.5e-3, 5), (0.152, 1.3e-3, 5), (0.155, 1.1e-3, 6),
    (0.158, 9e-4, 6), (0.161, 7.5e-4, 6), (0.164, 6e-4, 7), (0.167, 4.8e-4, 8), (0.170, 3.8e-4, 8), (0.173, 3e-4, 9),
    (0.176, 2.2e-4, 10), (0.179, 1.5e-4, 12), (0.182, 9e-5, 14), (0.185, 5.5e-5, 16), (0.188, 3.5e-5, 18), (0.191, 2.8e-5, 20),
    (0.194, 3.5e-5, 18), (0.197, 5e-5, 16), (0.200, 7e-5, 14), (0.203, 1.0e-4, 12), (0.206, 1.5e-4, 10), (0.209, 2.5e-4, 8),
    (0.212, 5e-4, 6), (0.215, 1.2e-3, 4), (0.218, 3.5e-3, 3), (0.221, 6e-3, 3), (0.224, 3.5e-3, 3), (0.227, 1e-3, 5),
    (0.230, 3e-4, 8), (0.233, 1.3e-4, 12), (0.236, 8e-5, 14), (0.239, 6e-5, 16), (0.242, 5e-5, 18), (0.245, 4e-5, 20),
    (0.248, 3.5e-5, 22), (0.251, 3e-5, 24), (0.254, 2.5e-5, 26), (0.257, 2.2e-5, 28), (0.260, 1.9e-5, 30), (0.263, 1.6e-5, 32),
    (0.266, 1.3e-5, 34), (0.269, 1.1e-5, 36), (0.272, 8e-6, 40), (0.275, 6e-6, 45), (0.278, 4.5e-6, 50), (0.281, 3e-6, 55),
    (0.284, 2.5e-6, 60), (0.287, 1.6e-6, 70), (0.290, 1.2e-6, 75), (0.293, 3.5e-6, 55), (0.296, 6e-6, 45), (0.299, 1e-5, 40),
    (0.302, 2e-5, 30), (0.305, 4e-5, 22), (0.308, 8e-5, 15), (0.311, 1.5e-4, 12), (0.314, 3e-4, 8), (0.317, 6e-4, 6),
    (0.320, 1.2e-3, 4), (0.323, 2.2e-3, 3), (0.326, 2.3e-3, 3), (0.329, 1e-3, 5), (0.332, 1.5e-4, 12), (0.335, 6e-5, 16),
    (0.338, 3e-5, 22), (0.341, 1.8e-5, 30), (0.344, 1.1e-5, 36), (0.347, 8e-6, 40), (0.350, 6e-6, 45), (0.353, 4.5e-6, 50),
    (0.356, 3.5e-6, 55), (0.359, 2.8e-6, 60), (0.362, 2.2e-6, 65), (0.365, 1.8e-6, 70), (0.368, 1.4e-6, 75), (0.371, 1.1e-6, 80),
    (0.374, 2e-6, 70), (0.377, 1e-6, 80), (0.380, 1.5e-6, 75), (0.383, 2.5e-6, 65), (0.386, 3e-6, 60), (0.389, 4e-6, 55),
    (0.392, 5e-6, 50), (0.395, 6.5e-6, 45), (0.398, 9e-6, 40), (0.401, 1.2e-5, 38), (0.404, 1.8e-5, 32), (0.407, 2.5e-5, 28),
    (0.410, 4e-5, 22), (0.413, 7e-5, 15), (0.416, 1.3e-4, 12), (0.419, 2.5e-4, 8), (0.422, 4e-4, 6), (0.425, 4.5e-4, 6),
    (0.428, 3e-4, 7), (0.431, 1e-4, 12), (0.434, 3e-5, 22), (0.437, 1.2e-5, 35), (0.440, 6e-6, 45), (0.443, 4e-6, 55),
    (0.446, 3e-6, 60), (0.449, 2.5e-6, 65), (0.452, 2e-6, 70), (0.455, 1.6e-6, 75), (0.458, 1.2e-6, 80), (0.461, 1.5e-6, 75),
    (0.464, 9e-7, 85), (0.467, 1.2e-6, 80), (0.470, 7e-7, 85), (0.473, 1.4e-6, 80), (0.476, 1.1e-6, 80), (0.479, 1.7e-6, 75),
    (0.482, 2.2e-6, 70), (0.485, 2.8e-6, 65), (0.488, 3.5e-6, 55), (0.491, 4.5e-6, 50), (0.494, 5.5e-6, 45), (0.497, 7e-6, 45),
    (0.500, 9e-6, 40), (0.503, 1.2e-5, 38), (0.506, 1.6e-5, 32), (0.509, 2.2e-5, 28), (0.512, 3e-5, 24), (0.515, 4.5e-5, 20),
    (0.518, 7e-5, 15), (0.521, 1.2e-4, 12), (0.524, 2.2e-4, 8), (0.527, 4e-4, 6), (0.530, 5.5e-4, 5), (0.533, 4e-4, 6),
    (0.536, 1.5e-4, 10), (0.539, 4e-5, 20), (0.542, 1.5e-5, 32), (0.545, 8e-6, 40), (0.548, 5e-6, 50), (0.551, 3.5e-6, 55),
    (0.554, 2.8e-6, 60), (0.557, 2.2e-6, 65), (0.560, 1.8e-6, 70), (0.564, 1.4e-6, 75), (0.568, 2e-6, 70), (0.572, 1e-6, 85),
    (0.576, 1.6e-6, 75), (0.580, 5e-7, 85), (0.584, 1.2e-6, 80), (0.588, 2e-6, 70), (0.592, 1.3e-6, 80), (0.596, 2.4e-6, 65),
    (0.600, 1.6e-6, 75), (0.604, 2.8e-6, 60), (0.608, 2e-6, 70), (0.612, 3.5e-6, 55), (0.616, 2.5e-6, 65), (0.620, 4.5e-6, 50),
    (0.624, 7e-6, 45), (0.628, 1.2e-5, 38), (0.632, 2.5e-5, 28), (0.636, 5e-5, 18), (0.640, 9e-5, 14), (0.643, 1e-4, 12),
    (0.646, 7e-5, 15), (0.650, 2.5e-5, 28), (0.654, 8e-6, 40), (0.658, 4e-6, 55), (0.662, 2.5e-6, 65), (0.666, 3e-6, 60),
    (0.670, 1.5e-6, 75), (0.674, 2.2e-6, 70), (0.678, 9e-7, 85), (0.682, 1.8e-6, 75), (0.686, 2.6e-6, 65), (0.690, 1.2e-6, 80),
    (0.694, 2e-6, 70), (0.698, 6e-7, 85), (0.702, 1.5e-6, 80), (0.706, 2.4e-6, 65), (0.710, 1.1e-6, 80), (0.714, 1.9e-6, 75),
    (0.718, 2.8e-6, 60), (0.722, 1.4e-6, 80), (0.726, 2.2e-6, 70), (0.730, 3.5e-6, 55), (0.734, 5e-6, 50), (0.738, 9e-6, 40),
    (0.742, 1.5e-5, 35), (0.746, 2e-5, 30), (0.750, 1.5e-5, 35), (0.754, 6e-6, 45), (0.758, 3e-6, 60), (0.762, 1.5e-6, 75),
    (0.766, 2.5e-6, 65), (0.770, 1e-6, 85), (0.774, 1.8e-6, 75), (0.778, 7e-7, 85), (0.782, 1.3e-6, 80), (0.786, 2.3e-6, 70),
    (0.790, 1e-6, 85), (0.794, 1.7e-6, 75), (0.798, 6e-7, 85), (0.802, 1.4e-6, 80), (0.806, 2.5e-6, 65), (0.810, 1.1e-6, 80),
    (0.814, 1.9e-6, 75), (0.818, 8e-7, 85), (0.822, 1.5e-6, 80), (0.826, 2.4e-6, 65), (0.830, 1.2e-6, 80), (0.834, 2e-6, 70),
    (0.838, 3.5e-6, 55), (0.842, 6e-6, 45), (0.846, 1.2e-5, 38), (0.850, 2.2e-5, 28), (0.854, 2e-5, 30), (0.858, 8e-6, 40),
    (0.862, 3e-6, 60), (0.866, 1.4e-6, 80), (0.870, 2.2e-6, 70), (0.874, 9e-7, 85), (0.880, 1.8e-6, 75), (0.886, 7e-7, 85),
    (0.892, 1.4e-6, 80), (0.898, 2.4e-6, 65), (0.904, 1.1e-6, 80), (0.910, 1.9e-6, 75), (0.916, 6e-7, 85), (0.922, 1.5e-6, 80),
    (0.928, 2.6e-6, 65), (0.934, 1.2e-6, 80), (0.940, 2e-6, 70), (0.946, 3.5e-6, 55), (0.950, 6e-6, 45), (0.954, 9e-6, 40),
    (0.958, 1.3e-5, 35), (0.962, 1.1e-5, 38), (0.966, 6e-6, 45), (0.970, 2.5e-6, 65), (0.975, 1.2e-6, 80), (0.980, 2e-6, 70),
    (0.986, 8e-7, 85), (0.992, 1.6e-6, 75), (0.998, 2.5e-6, 65), (1.004, 1e-6, 85), (1.010, 1.8e-6, 75), (1.016, 7e-7, 85),
    (1.022, 1.4e-6, 80), (1.028, 2.6e-6, 65), (1.034, 1.1e-6, 80), (1.040, 1.9e-6, 75), (1.046, 3e-7, 85), (1.052, 1.5e-6, 80),
    (1.058, 2.3e-6, 70), (1.064, 1e-6, 85), (1.070, 1.7e-6, 75), (1.076, 2.8e-6, 60), (1.082, 1.2e-6, 80), (1.088, 2e-6, 70),
    (1.094, 1.4e-6, 80),
]
SIM_D = [
    (0.022, 0.97), (0.035, 1.0), (0.045, 0.96), (0.050, 0.80), (0.054, 0.50), (0.058, 0.18), (0.062, 0.045), (0.066, 0.012),
    (0.070, 3.5e-3), (0.073, 1.2e-3), (0.076, 2.5e-3), (0.080, 7e-3), (0.086, 1.6e-2), (0.092, 2.4e-2), (0.100, 3.3e-2),
    (0.108, 4.5e-2), (0.113, 7e-2), (0.117, 0.12), (0.120, 0.16), (0.123, 0.15), (0.126, 0.08), (0.129, 2e-2),
    (0.132, 7e-3), (0.136, 3.5e-3), (0.145, 2e-3), (0.155, 1.2e-3), (0.165, 7e-4), (0.175, 4e-4), (0.182, 2.5e-4),
    (0.190, 1.7e-4), (0.197, 1.4e-4), (0.203, 1.6e-4), (0.208, 3e-4), (0.212, 7e-4), (0.216, 2e-3), (0.219, 5e-3),
    (0.221, 8e-3), (0.224, 5e-3), (0.227, 1.5e-3), (0.230, 4e-4), (0.234, 1.5e-4), (0.240, 7e-5), (0.250, 3.5e-5),
    (0.260, 2e-5), (0.270, 1.3e-5), (0.278, 1.0e-5), (0.285, 9.5e-6), (0.292, 1.1e-5), (0.298, 1.8e-5), (0.304, 3.5e-5),
    (0.310, 1e-4), (0.315, 3e-4), (0.319, 1e-3), (0.322, 2.5e-3), (0.325, 3e-3), (0.328, 1.5e-3), (0.331, 3e-4),
    (0.335, 7e-5), (0.340, 2.5e-5), (0.350, 8e-6), (0.360, 4e-6), (0.370, 2.8e-6), (0.380, 2.5e-6), (0.390, 3.5e-6),
    (0.400, 7e-6), (0.408, 2e-5), (0.414, 6e-5), (0.419, 2e-4), (0.423, 5e-4), (0.426, 6e-4), (0.429, 3e-4),
    (0.433, 6e-5), (0.438, 1.5e-5), (0.445, 5e-6), (0.455, 2.5e-6), (0.465, 1.7e-6), (0.475, 1.5e-6), (0.485, 1.6e-6),
    (0.495, 3e-6), (0.505, 8e-6), (0.513, 3e-5), (0.520, 1.1e-4), (0.525, 3e-4), (0.529, 5.5e-4), (0.533, 4e-4),
    (0.537, 1e-4), (0.542, 2e-5), (0.550, 4e-6), (0.560, 2e-6), (0.575, 1.3e-6), (0.595, 1.1e-6), (0.612, 1.5e-6),
    (0.622, 4e-6), (0.630, 1.5e-5), (0.637, 6e-5), (0.641, 1e-4), (0.645, 6e-5), (0.651, 1e-5), (0.658, 2e-6),
    (0.670, 1e-6), (0.700, 8e-7), (0.730, 8e-7), (0.738, 3e-6), (0.744, 1.5e-5), (0.748, 3.5e-5), (0.752, 1.5e-5),
    (0.758, 2e-6), (0.765, 7e-7), (0.800, 6e-7), (0.838, 7e-7), (0.845, 3e-6), (0.851, 1.5e-5), (0.857, 3e-6),
    (0.864, 7e-7), (0.900, 6e-7), (0.948, 6e-7), (0.955, 2.5e-6), (0.961, 7e-6), (0.967, 2e-6), (0.975, 6e-7),
    (1.020, 6e-7), (1.098, 6e-7),
]

EXP_E = [
    (0.022, 0.95, 1), (0.027, 0.99, 1), (0.032, 1.0, 1), (0.037, 1.0, 1), (0.042, 0.97, 1), (0.046, 0.88, 1),
    (0.050, 0.65, 1), (0.053, 0.38, 1), (0.056, 0.17, 1), (0.059, 0.06, 1), (0.062, 0.018, 2), (0.064, 5e-3, 3),
    (0.066, 1.2e-3, 5), (0.068, 7e-4, 6), (0.070, 2.5e-3, 4), (0.072, 6e-3, 3), (0.075, 1.1e-2, 2), (0.078, 1.5e-2, 2),
    (0.081, 1.9e-2, 2), (0.084, 2.4e-2, 2), (0.087, 2.9e-2, 2), (0.090, 3.5e-2, 2), (0.093, 4.2e-2, 2), (0.096, 5.2e-2, 1),
    (0.099, 6.5e-2, 1), (0.102, 8.5e-2, 1), (0.105, 0.12, 1), (0.108, 0.13, 1), (0.111, 0.09, 1), (0.114, 0.02, 2),
    (0.117, 6e-3, 3), (0.120, 3.5e-3, 4), (0.123, 2.5e-3, 4), (0.126, 2.1e-3, 4), (0.129, 1.8e-3, 5), (0.132, 1.5e-3, 5),
    (0.135, 1.2e-3, 5), (0.138, 9e-4, 6), (0.141, 7e-4, 6), (0.144, 5.2e-4, 7), (0.147, 4e-4, 8), (0.150, 3e-4, 8),
    (0.153, 2.3e-4, 9), (0.156, 1.7e-4, 10), (0.159, 1.3e-4, 11), (0.162, 1e-4, 12), (0.165, 8e-5, 13), (0.168, 6.5e-5, 14),
    (0.171, 5.8e-5, 14), (0.174, 5.5e-5, 14), (0.177, 6.5e-5, 14), (0.180, 8.5e-5, 13), (0.183, 1.2e-4, 11), (0.186, 1.8e-4, 10),
    (0.189, 3e-4, 8), (0.192, 5.5e-4, 6), (0.195, 1.3e-3, 5), (0.198, 3.5e-3, 3), (0.201, 4.2e-3, 3), (0.204, 1.5e-3, 5),
    (0.207, 3.5e-4, 8), (0.210, 1.3e-4, 11), (0.213, 8e-5, 13), (0.216, 5.5e-5, 15), (0.219, 4.2e-5, 17), (0.222, 3.5e-5, 19),
    (0.225, 3e-5, 20), (0.228, 2.6e-5, 22), (0.231, 2.2e-5, 24), (0.234, 1.9e-5, 26), (0.237, 1.6e-5, 28), (0.240, 1.4e-5, 30),
    (0.243, 1.2e-5, 32), (0.246, 1e-5, 34), (0.249, 9e-6, 36), (0.252, 8e-6, 38), (0.255, 7e-6, 40), (0.258, 6e-6, 42),
    (0.261, 5e-6, 45), (0.264, 4.5e-6, 48), (0.267, 4e-6, 50), (0.270, 3.5e-6, 52), (0.273, 3e-6, 55), (0.276, 4.5e-6, 48),
    (0.279, 8e-6, 38), (0.282, 1.5e-5, 30), (0.285, 2.5e-5, 24), (0.288, 5e-5, 16), (0.291, 1.5e-4, 10), (0.294, 5e-4, 6),
    (0.297, 1.5e-3, 4), (0.300, 2.2e-3, 4), (0.303, 8e-4, 6), (0.306, 1.5e-4, 10), (0.309, 5e-5, 16), (0.312, 2.5e-5, 24),
    (0.316, 1.4e-5, 30), (0.320, 9e-6, 36), (0.324, 6.5e-6, 42), (0.328, 5e-6, 45), (0.332, 4e-6, 50), (0.336, 3.2e-6, 55),
    (0.340, 2.5e-6, 60), (0.344, 2e-6, 65), (0.348, 1.6e-6, 70), (0.352, 1.3e-6, 75), (0.356, 1e-6, 80), (0.360, 6e-7, 85),
    (0.364, 1.2e-6, 80), (0.368, 2e-6, 70), (0.372, 3e-6, 60), (0.376, 4.5e-6, 50), (0.380, 6e-6, 45), (0.384, 7.5e-6, 40),
    (0.388, 9e-6, 38), (0.392, 1e-5, 36), (0.396, 1.1e-5, 35), (0.400, 1e-5, 36), (0.404, 6e-6, 45), (0.408, 3e-6, 60),
    (0.412, 1.8e-6, 70), (0.416, 1.2e-6, 80), (0.420, 8e-7, 85), (0.424, 1.3e-6, 80), (0.428, 6e-7, 85), (0.432, 1.1e-6, 80),
    (0.436, 1.6e-6, 75), (0.440, 9e-7, 85), (0.444, 1.4e-6, 80), (0.448, 1.9e-6, 75), (0.452, 2.4e-6, 65), (0.456, 3e-6, 60),
    (0.460, 4e-6, 55), (0.464, 5.5e-6, 45), (0.468, 8e-6, 40), (0.472, 1.2e-5, 34), (0.476, 2e-5, 26), (0.480, 3.5e-5, 20),
    (0.484, 7e-5, 14), (0.488, 1.5e-4, 10), (0.492, 3.5e-4, 7), (0.496, 5.5e-4, 6), (0.500, 6e-4, 6), (0.504, 3e-4, 8),
    (0.508, 6e-5, 15), (0.512, 1.5e-5, 30), (0.516, 6e-6, 45), (0.520, 3e-6, 60), (0.524, 2e-6, 70), (0.528, 1.4e-6, 75),
    (0.532, 1e-6, 85), (0.536, 1.6e-6, 75), (0.540, 7e-7, 85), (0.544, 1.2e-6, 80), (0.548, 2e-6, 70), (0.552, 1e-6, 85),
    (0.556, 1.7e-6, 75), (0.560, 9e-7, 85), (0.564, 1.5e-6, 80), (0.568, 2.2e-6, 70), (0.572, 3e-6, 60), (0.576, 4e-6, 55),
    (0.580, 6e-6, 45), (0.584, 1e-5, 36), (0.588, 2e-5, 26), (0.592, 4e-5, 18), (0.596, 8e-5, 13), (0.600, 1.1e-4, 11),
    (0.604, 6e-5, 15), (0.608, 1.5e-5, 30), (0.612, 4e-6, 55), (0.616, 2e-6, 70), (0.620, 1.2e-6, 80), (0.625, 2e-6, 70),
    (0.630, 8e-7, 85), (0.635, 1.5e-6, 80), (0.640, 2.4e-6, 65), (0.645, 1e-6, 85), (0.650, 3e-7, 85), (0.655, 1.4e-6, 80),
    (0.660, 2.2e-6, 70), (0.665, 1e-6, 85), (0.670, 1.7e-6, 75), (0.675, 2.5e-6, 65), (0.680, 3.5e-6, 55), (0.684, 6e-6, 45),
    (0.688, 1e-5, 36), (0.692, 2e-5, 26), (0.696, 3.5e-5, 20), (0.700, 3.8e-5, 20), (0.704, 2e-5, 26), (0.708, 5e-6, 50),
    (0.712, 1.8e-6, 70), (0.717, 1e-6, 85), (0.722, 1.6e-6, 75), (0.727, 6e-7, 85), (0.732, 1.3e-6, 80), (0.737, 2.2e-6, 70),
    (0.742, 9e-7, 85), (0.747, 1.5e-6, 80), (0.752, 3e-7, 85), (0.757, 1.2e-6, 80), (0.762, 2e-6, 70), (0.767, 1e-6, 85),
    (0.772, 1.7e-6, 75), (0.777, 2.6e-6, 65), (0.782, 1.3e-6, 80), (0.787, 2.2e-6, 70), (0.792, 4e-6, 55), (0.796, 7e-6, 42),
    (0.800, 1e-5, 36), (0.804, 6e-6, 45), (0.808, 2e-6, 70), (0.813, 1e-6, 85), (0.818, 1.8e-6, 75), (0.823, 7e-7, 85),
    (0.828, 1.4e-6, 80), (0.833, 2.4e-6, 65), (0.838, 1e-6, 85), (0.843, 1.6e-6, 75), (0.848, 3e-7, 85), (0.853, 1.2e-6, 80),
    (0.858, 2e-6, 70), (0.863, 1e-6, 85), (0.868, 1.7e-6, 75), (0.873, 2.6e-6, 65), (0.878, 1.2e-6, 80), (0.883, 2e-6, 70),
    (0.888, 3.5e-6, 55), (0.892, 6e-6, 45), (0.896, 1.1e-5, 35), (0.900, 1.7e-5, 28), (0.904, 9e-6, 38), (0.908, 3e-6, 60),
    (0.913, 1.2e-6, 80), (0.918, 2e-6, 70), (0.923, 8e-7, 85), (0.928, 1.5e-6, 80), (0.933, 2.4e-6, 65), (0.938, 1e-6, 85),
    (0.943, 1.8e-6, 75), (0.948, 6e-7, 85), (0.953, 1.3e-6, 80), (0.958, 2.2e-6, 70), (0.963, 1e-6, 85), (0.968, 1.6e-6, 75),
    (0.973, 3e-7, 85), (0.978, 1.2e-6, 80), (0.983, 2e-6, 70), (0.988, 2.5e-6, 65), (0.993, 2e-6, 70), (0.998, 2.4e-6, 65),
    (1.003, 1.5e-6, 80), (1.008, 2e-6, 70), (1.013, 1e-6, 85), (1.018, 1.7e-6, 75), (1.023, 7e-7, 85), (1.028, 1.4e-6, 80),
    (1.033, 2.3e-6, 70), (1.038, 1e-6, 85), (1.043, 1.6e-6, 75), (1.048, 3e-7, 85), (1.053, 1.2e-6, 80), (1.058, 2e-6, 70),
    (1.063, 1e-6, 85), (1.068, 1.7e-6, 75), (1.073, 2.5e-6, 65), (1.078, 1.2e-6, 80), (1.083, 2e-6, 70), (1.088, 9e-7, 85),
    (1.093, 1.5e-6, 80),
]
SIM_E = [
    (0.022, 0.96), (0.035, 1.0), (0.043, 0.97), (0.048, 0.80), (0.052, 0.45), (0.056, 0.16), (0.060, 0.04), (0.063, 8e-3),
    (0.065, 1.5e-3), (0.067, 5e-4), (0.069, 2e-3), (0.072, 6e-3), (0.078, 1.5e-2), (0.085, 2.6e-2), (0.092, 4e-2),
    (0.098, 6e-2), (0.103, 0.1), (0.106, 0.14), (0.108, 0.14), (0.111, 0.07), (0.114, 0.015), (0.118, 4.5e-3),
    (0.124, 2.3e-3), (0.132, 1.5e-3), (0.140, 8e-4), (0.150, 3.2e-4), (0.160, 1.3e-4), (0.168, 7e-5), (0.174, 5.5e-5),
    (0.180, 8e-5), (0.186, 1.8e-4), (0.191, 6e-4), (0.195, 2e-3), (0.198, 6e-3), (0.200, 8e-3), (0.202, 5e-3),
    (0.205, 1.2e-3), (0.209, 2e-4), (0.215, 7e-5), (0.225, 3.5e-5), (0.235, 2.4e-5), (0.245, 2e-5), (0.250, 1.8e-5),
    (0.255, 2e-5), (0.258, 1.6e-5), (0.261, 2.2e-5), (0.264, 1.8e-5), (0.268, 2.5e-5), (0.274, 3e-5), (0.280, 4.5e-5),
    (0.286, 1e-4), (0.291, 3e-4), (0.295, 1.2e-3), (0.298, 4e-3), (0.300, 5e-3), (0.302, 3e-3), (0.305, 6e-4),
    (0.310, 8e-5), (0.318, 2e-5), (0.328, 9e-6), (0.340, 5.5e-6), (0.350, 4.5e-6), (0.358, 4.5e-6), (0.366, 5.5e-6),
    (0.375, 9e-6), (0.383, 1.8e-5), (0.390, 5e-5), (0.395, 2e-4), (0.398, 7e-4), (0.400, 1.2e-3), (0.402, 6e-4),
    (0.405, 1e-4), (0.410, 1.5e-5), (0.416, 4e-6), (0.425, 2e-6), (0.440, 1.6e-6), (0.455, 2.5e-6), (0.465, 5e-6),
    (0.475, 2e-5), (0.485, 8e-5), (0.492, 3e-4), (0.497, 6e-4), (0.500, 6.5e-4), (0.504, 3e-4), (0.509, 5e-5),
    (0.515, 8e-6), (0.522, 2e-6), (0.535, 1.1e-6), (0.560, 9e-7), (0.575, 1.5e-6), (0.585, 8e-6), (0.593, 5e-5),
    (0.599, 1.2e-4), (0.604, 6e-5), (0.610, 8e-6), (0.618, 1.5e-6), (0.630, 8e-7), (0.660, 7e-7), (0.680, 1e-6),
    (0.688, 6e-6), (0.694, 2.5e-5), (0.699, 4e-5), (0.704, 2e-5), (0.710, 3e-6), (0.720, 8e-7), (0.760, 6e-7),
    (0.785, 1e-6), (0.793, 5e-6), (0.799, 1.5e-5), (0.804, 6e-6), (0.812, 1e-6), (0.830, 6e-7), (0.880, 6e-7),
    (0.892, 1.5e-6), (0.899, 4e-6), (0.906, 1.5e-6), (0.915, 6e-7), (0.950, 5.5e-7), (0.990, 1e-6), (1.000, 1.2e-6),
    (1.010, 6e-7), (1.100, 5.5e-7),
]

EXP_F = [
    (0.022, 0.93, 1), (0.026, 0.97, 1), (0.030, 0.99, 1), (0.034, 1.0, 1), (0.038, 1.0, 1), (0.042, 0.99, 1),
    (0.046, 0.95, 1), (0.050, 0.85, 1), (0.054, 0.60, 1), (0.057, 0.35, 1), (0.060, 0.15, 1), (0.063, 0.06, 1),
    (0.066, 0.02, 2), (0.069, 8e-3, 3), (0.072, 6e-3, 3), (0.075, 9e-3, 3), (0.078, 1.8e-2, 2), (0.081, 3.5e-2, 2),
    (0.084, 6.5e-2, 1), (0.087, 0.11, 1), (0.090, 0.17, 1), (0.093, 0.22, 1), (0.096, 0.23, 1), (0.099, 0.15, 1),
    (0.102, 5e-2, 1), (0.105, 1.5e-2, 2), (0.108, 5.5e-3, 3), (0.111, 4.6e-3, 3), (0.114, 4.8e-3, 3), (0.117, 5.2e-3, 3),
    (0.120, 5.5e-3, 3), (0.123, 5.5e-3, 3), (0.126, 5.2e-3, 3), (0.129, 4.6e-3, 3), (0.132, 4e-3, 3), (0.135, 3.4e-3, 4),
    (0.138, 2.9e-3, 4), (0.141, 2.5e-3, 4), (0.144, 2.2e-3, 4), (0.147, 2e-3, 4), (0.150, 1.8e-3, 5), (0.153, 1.7e-3, 5),
    (0.156, 2.5e-3, 4), (0.159, 6e-3, 3), (0.162, 1.1e-2, 2), (0.165, 4e-3, 3), (0.168, 1.2e-3, 5), (0.171, 6e-4, 6),
    (0.174, 3.5e-4, 8), (0.177, 2.5e-4, 9), (0.180, 1.9e-4, 10), (0.183, 1.5e-4, 10), (0.186, 1.2e-4, 11), (0.189, 9e-5, 12),
    (0.192, 7.5e-5, 13), (0.195, 6.5e-5, 14), (0.198, 6e-5, 14), (0.201, 6.5e-5, 14), (0.204, 7.5e-5, 13), (0.207, 9e-5, 12),
    (0.210, 1.1e-4, 11), (0.213, 1.4e-4, 10), (0.216, 1.9e-4, 10), (0.219, 3e-4, 8), (0.222, 6e-4, 6), (0.225, 1.4e-3, 5),
    (0.228, 1.6e-3, 5), (0.231, 6e-4, 6), (0.234, 2e-4, 10), (0.237, 1.1e-4, 11), (0.240, 8e-5, 13), (0.243, 6e-5, 14),
    (0.246, 4.8e-5, 16), (0.249, 4e-5, 18), (0.252, 3.4e-5, 19), (0.255, 2.9e-5, 20), (0.258, 2.5e-5, 22), (0.261, 2.1e-5, 24),
    (0.264, 1.6e-5, 27), (0.267, 1.2e-5, 30), (0.270, 9e-6, 34), (0.273, 7e-6, 38), (0.276, 5.5e-6, 42), (0.279, 4.5e-6, 46),
    (0.282, 3.8e-6, 50), (0.285, 3e-6, 55), (0.288, 2.2e-6, 62), (0.291, 3.5e-6, 52), (0.294, 6e-6, 42), (0.297, 1.5e-5, 28),
    (0.300, 6e-5, 14), (0.303, 9e-5, 12), (0.306, 5e-5, 15), (0.309, 2.5e-5, 22), (0.312, 1.3e-5, 30), (0.315, 9e-6, 34),
    (0.318, 7.5e-6, 38), (0.321, 6.5e-6, 40), (0.324, 5.5e-6, 42), (0.327, 4.5e-6, 46), (0.330, 3.5e-6, 52), (0.333, 2.5e-6, 60),
    (0.336, 2e-6, 65), (0.339, 1.5e-6, 72), (0.342, 1.8e-6, 68), (0.345, 3e-6, 55), (0.348, 5e-6, 45), (0.351, 7e-6, 40),
    (0.354, 1.2e-5, 30), (0.357, 2e-5, 25), (0.360, 3.5e-5, 18), (0.363, 7e-5, 13), (0.366, 1.4e-4, 10), (0.369, 2.8e-4, 8),
    (0.372, 3.6e-4, 7), (0.375, 3.2e-4, 8), (0.378, 1.8e-4, 10), (0.381, 8e-5, 13), (0.384, 4e-5, 17), (0.387, 2.5e-5, 22),
    (0.390, 1.5e-5, 28), (0.393, 1e-5, 32), (0.396, 7.5e-6, 38), (0.399, 6e-6, 42), (0.402, 4.5e-6, 46), (0.405, 3.8e-6, 50),
    (0.408, 3.2e-6, 54), (0.411, 2.6e-6, 58), (0.414, 2.2e-6, 62), (0.418, 2.6e-6, 58), (0.422, 1.8e-6, 68), (0.426, 2.2e-6, 62),
    (0.430, 1.5e-6, 72), (0.434, 2e-6, 65), (0.438, 1.2e-6, 78), (0.442, 1.8e-6, 68), (0.446, 9e-7, 82), (0.450, 1.5e-6, 72),
    (0.454, 2.2e-6, 62), (0.458, 1e-6, 80), (0.462, 5e-7, 85), (0.466, 1.6e-6, 70), (0.470, 1e-6, 80), (0.474, 2e-6, 65),
    (0.478, 1.3e-6, 75), (0.482, 2.4e-6, 60), (0.486, 2e-6, 65), (0.490, 3e-6, 55), (0.494, 3.5e-6, 52), (0.498, 5e-6, 45),
    (0.502, 7e-6, 40), (0.506, 1e-5, 34), (0.510, 1.5e-5, 28), (0.514, 2.3e-5, 22), (0.518, 3e-5, 20), (0.522, 3e-5, 20),
    (0.526, 2.5e-5, 22), (0.530, 1.5e-5, 28), (0.534, 9e-6, 34), (0.538, 5e-6, 45), (0.542, 3e-6, 55), (0.546, 2e-6, 65),
    (0.550, 1.2e-6, 78), (0.554, 8e-7, 85), (0.558, 5e-7, 85), (0.562, 8e-7, 85), (0.566, 4e-7, 85), (0.570, 9e-7, 85),
    (0.574, 6e-7, 85), (0.578, 1e-6, 80), (0.582, 1.5e-6, 72), (0.586, 2.5e-6, 60), (0.590, 4e-6, 50), (0.594, 5.5e-6, 44),
    (0.598, 6e-6, 42), (0.602, 4.5e-6, 46), (0.606, 2.5e-6, 60), (0.610, 1.5e-6, 72), (0.614, 1e-6, 80), (0.618, 1.3e-6, 75),
    (0.622, 7e-7, 85), (0.626, 1.1e-6, 80), (0.630, 1.5e-6, 72), (0.634, 8e-7, 85), (0.638, 1.2e-6, 78), (0.642, 1.6e-6, 70),
    (0.646, 1e-6, 80), (0.650, 1.8e-6, 68), (0.654, 2.4e-6, 60), (0.658, 3.5e-6, 52), (0.662, 4.5e-6, 46), (0.666, 5e-6, 45),
    (0.670, 4e-6, 50), (0.674, 2.8e-6, 56), (0.678, 1.8e-6, 68), (0.682, 1.2e-6, 78), (0.686, 1.6e-6, 70), (0.690, 8e-7, 85),
    (0.695, 1.3e-6, 75), (0.700, 7e-7, 85), (0.705, 1.1e-6, 80), (0.710, 1.6e-6, 70), (0.715, 9e-7, 82), (0.720, 1.3e-6, 75),
    (0.725, 6e-7, 85), (0.730, 1e-6, 80), (0.735, 1.5e-6, 72), (0.740, 8e-7, 85), (0.745, 1.2e-6, 78), (0.750, 5e-7, 85),
    (0.755, 1e-6, 80), (0.760, 1.4e-6, 74), (0.765, 7e-7, 85), (0.770, 1.1e-6, 80), (0.775, 1.6e-6, 70), (0.780, 8e-7, 85),
    (0.785, 1.2e-6, 78), (0.790, 6e-7, 85), (0.795, 1e-6, 80),
]
SIM_F = [
    (0.022, 0.95), (0.035, 1.0), (0.046, 0.97), (0.050, 0.88), (0.054, 0.65), (0.058, 0.30), (0.062, 0.08), (0.066, 0.018),
    (0.069, 6e-3), (0.072, 4e-3), (0.075, 8e-3), (0.080, 3e-2), (0.085, 8e-2), (0.090, 0.18), (0.094, 0.25), (0.097, 0.2),
    (0.100, 0.08), (0.104, 0.02), (0.108, 6e-3), (0.112, 4.8e-3), (0.118, 5.3e-3), (0.124, 5.5e-3), (0.130, 4.4e-3),
    (0.138, 2.9e-3), (0.146, 2e-3), (0.152, 1.5e-3), (0.155, 2.5e-3), (0.158, 1.5e-2), (0.160, 4.5e-2), (0.162, 2e-2),
    (0.165, 3e-3), (0.170, 7e-4), (0.176, 2.6e-4), (0.184, 1.3e-4), (0.192, 8e-5), (0.199, 6.5e-5), (0.206, 8e-5),
    (0.213, 1.4e-4), (0.219, 3.5e-4), (0.224, 1e-3), (0.228, 5e-3), (0.230, 4e-3), (0.233, 8e-4), (0.238, 2e-4),
    (0.245, 8e-5), (0.252, 4e-5), (0.260, 2.2e-5), (0.268, 1.6e-5), (0.275, 1.5e-5), (0.282, 2e-5), (0.288, 3.5e-5),
    (0.293, 8e-5), (0.296, 2.5e-4), (0.299, 1.3e-3), (0.301, 8e-4), (0.304, 1.5e-4), (0.310, 3e-5), (0.318, 1e-5),
    (0.326, 6e-6), (0.334, 4e-6), (0.340, 3.5e-6), (0.346, 4e-6), (0.352, 7e-6), (0.358, 1.8e-5), (0.364, 6e-5),
    (0.369, 2e-4), (0.372, 3e-4), (0.376, 2.8e-4), (0.380, 1e-4), (0.385, 3e-5), (0.392, 1e-5), (0.400, 5e-6),
    (0.410, 3e-6), (0.420, 2.2e-6), (0.430, 1.8e-6), (0.440, 1.6e-6), (0.445, 2.5e-6), (0.448, 1e-5), (0.451, 5.5e-5),
    (0.454, 3e-5), (0.457, 5e-6), (0.462, 1.6e-6), (0.475, 1.5e-6), (0.490, 1.7e-6), (0.500, 2.5e-6), (0.510, 4e-6),
    (0.518, 7e-6), (0.524, 1.1e-5), (0.528, 1.2e-5), (0.533, 8e-6), (0.540, 3e-6), (0.548, 1.5e-6), (0.556, 1.1e-6),
    (0.570, 1.1e-6), (0.585, 1.3e-6), (0.593, 2e-6), (0.598, 2.5e-6), (0.604, 2e-6), (0.612, 1.3e-6), (0.630, 1.3e-6),
    (0.650, 1.3e-6), (0.665, 1.3e-6), (0.675, 1e-6), (0.700, 9.5e-7), (0.750, 9.5e-7), (0.800, 9.5e-7),
]

CAPTIONS = [
    r'$\mathrm{(a)\ SN71 - [U_{9}/Fe_{34}]_{30}}$',
    r'$\mathrm{(b)\ SN72 - [U_{23.2}/Fe_{17}]_{10}}$',
    r'$\mathrm{(c)\ SN73 - [U_{30.5}/Fe_{14}]_{10}}$',
    r'$\mathrm{(d)\ SN74 - [U_{32}/Fe_{27}]_{30}}$',
    r'$\mathrm{(e)\ SN75 - [U_{35.2}/Fe_{27}]_{30}}$',
    r'$\mathrm{(f)\ SN76 - [U_{27.5}/Fe_{57}]_{20}}$',
]
X_LIMITS = [(0.02, 1.095), (0.02, 0.745), (0.02, 0.75), (0.015, 1.1), (0.02, 1.1), (0.02, 0.8)]
X_STEPS = [(0.2, 0.1), (0.1, 0.05), (0.1, 0.05), (0.2, 0.1), (0.2, 0.1), (0.2, 0.1)]
Y_TICKS = [1, 0.1, 0.01, 1e-3, 1e-4, 1e-5, 1e-6, 1e-7]
Y_TICK_LABELS = ['1', '0.1', '0.01', '1E-3', '1E-4', '1E-5', '1E-6', '1E-7']

# axes boxes [left, bottom, width, height] in figure fractions
BOXES = [
    [0.0797, 0.7744, 0.3995, 0.2160], [0.6094, 0.7744, 0.3853, 0.2160],
    [0.0753, 0.4282, 0.3968, 0.2173], [0.6023, 0.4282, 0.3897, 0.2173],
    [0.0735, 0.0878, 0.3995, 0.2154], [0.6023, 0.0865, 0.3826, 0.2231],
]
CAPTION_XY = [(266, 465), (848, 465), (266, 1016), (880, 1016), (266, 1545), (880, 1547)]

PAGE = '#ececf4'
INK = '#333333'
RED = '#f2553c'

sns.set_style('ticks')
plt.rcParams['font.family'] = ['Liberation Sans', 'DejaVu Sans']
plt.rcParams['mathtext.fontset'] = 'cm'
plt.rcParams['axes.linewidth'] = 1.1
plt.rcParams['axes.edgecolor'] = '#4a4a4a'


def draw_panel(ax, exp, sim, xlim, steps, show_legend=False):
    q, r, e = (np.array(v, dtype=float) for v in zip(*exp))
    err = r * e / 100.0
    ax.errorbar(q, r, yerr=err, fmt='none', ecolor=INK, elinewidth=0.6,
                capsize=1.6, capthick=0.6, zorder=2)
    exp_df = pd.DataFrame({'Q': q, 'R': r})
    sns.lineplot(data=exp_df, x='Q', y='R', ax=ax, estimator=None, sort=False,
                 color=INK, lw=0.8, marker='o', markersize=3.8,
                 markerfacecolor='none', markeredgecolor='#262626',
                 markeredgewidth=0.75, zorder=3)
    sq, sr = zip(*sim)
    sim_df = pd.DataFrame({'Q': sq, 'R': sr})
    sns.lineplot(data=sim_df, x='Q', y='R', ax=ax, estimator=None, sort=False,
                 color=RED, lw=0.9, alpha=0.9, zorder=4)

    ax.set_yscale('log')
    ax.set_xlim(*xlim)
    ax.set_ylim(1e-7, 1.0)
    ax.set_facecolor('none')

    ax.yaxis.set_major_locator(FixedLocator(Y_TICKS))
    ax.set_yticklabels(Y_TICK_LABELS)
    ax.yaxis.set_minor_locator(LogLocator(base=10, subs=np.arange(2, 10)))
    ax.yaxis.set_minor_formatter(NullFormatter())
    ax.xaxis.set_major_locator(MultipleLocator(steps[0]))
    ax.xaxis.set_minor_locator(MultipleLocator(steps[1]))
    ax.xaxis.set_major_formatter(plt.FuncFormatter(lambda v, p: f'{v:.1f}'))

    ax.tick_params(which='major', direction='inout', length=5, width=0.9,
                   top=True, right=True, labelsize=9.5, colors='#4a4a4a', pad=3)
    ax.tick_params(which='minor', direction='in', length=2.5, width=0.6,
                   top=True, right=True, colors='#4a4a4a')
    for lab in ax.get_xticklabels() + ax.get_yticklabels():
        lab.set_color('#3a3a3a')

    ax.set_xlabel(r'Q (Å$^{\mathregular{-1}}$)', fontsize=19.5, color='#2a2a2a', labelpad=13)
    ax.set_ylabel('Normalised Reflectivity', fontsize=19.5, color='#2a2a2a', labelpad=7)

    leg = ax.get_legend()
    if leg is not None:
        leg.remove()
    if show_legend:
        handles = [
            Line2D([], [], color='#555555', lw=0.9, ls=(0, (6, 3)), marker='o',
                   markersize=3.8, markerfacecolor=PAGE, markeredgecolor='#444444'),
            Line2D([], [], color=RED, lw=0.9),
        ]
        ax.legend(handles, ['Experimental Data', 'Simulated Reflectivity'],
                  loc='upper left', bbox_to_anchor=(0.225, 0.94), frameon=False,
                  fontsize=19, handlelength=2.4, handletextpad=0.35,
                  labelspacing=0.3, borderaxespad=0.0, labelcolor='#2a2a2a')


fig = plt.figure(figsize=(11.29, 15.60), dpi=100, facecolor=PAGE)

panels = [(EXP_A, SIM_A), (EXP_B, SIM_B), (EXP_C, SIM_C),
          (EXP_D, SIM_D), (EXP_E, SIM_E), (EXP_F, SIM_F)]

for i, (exp, sim) in enumerate(panels):
    ax = fig.add_axes(BOXES[i])
    draw_panel(ax, exp, sim, X_LIMITS[i], X_STEPS[i], show_legend=(i == 0))
    cx, cy = CAPTION_XY[i]
    fig.text(cx / 1129, 1 - cy / 1560, CAPTIONS[i], fontsize=18, color='#1e1e1e',
             ha='center', va='center')

fig.savefig('out.png', dpi=100, facecolor=fig.get_facecolor())
plt.close(fig)
